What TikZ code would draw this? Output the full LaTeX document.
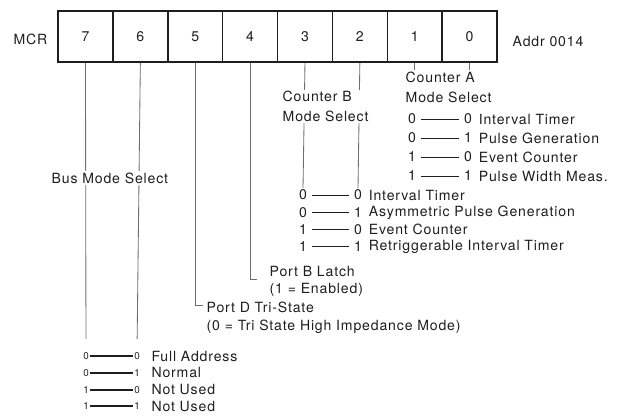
\documentclass[tikz,border=0pt]{standalone}
\usepackage{fontspec}
\setmainfont{TeX Gyre Heros}[LetterSpace=6]
\usepackage{tikz}

\begin{document}
\begin{tikzpicture}[x=0.025cm,y=-0.025cm,
  bitcell/.style={draw=ink,line width=1.1pt,minimum width=1.372cm,minimum height=1.28cm,inner sep=0pt,text=ink,font=\fontsize{10}{12}\selectfont},
  lbl/.style={anchor=west,inner sep=1pt,text=ink,font=\fontsize{10}{14}\selectfont},
  digit/.style={inner xsep=3.5pt,inner ysep=1pt,text=ink,font=\fontsize{10}{12}\selectfont},
  smalldigit/.style={inner xsep=1pt,inner ysep=1pt,text=ink,font=\fontsize{7}{8}\selectfont},
  bitline/.style={draw=wire,line width=0.6pt},
  tabline/.style={draw=ink,line width=0.6pt},
  busline/.style={draw=ink,line width=1.3pt}]
% Define colors
\definecolor{ink}{RGB}{30,30,30}
\definecolor{wire}{RGB}{110,110,110}

\useasboundingbox (0,0) rectangle (622,415);

% Draw register
\foreach \i in {0,...,7}
  \node[bitcell] (b\i) at ({469.6-54.875*\i},36.5) {\i};
\node[lbl] (mcr) at (12,39) {MCR};
\node[lbl] (addr) at (511,41) {Addr 0014};

% Counter A mode select
\node[lbl] (cnta) at (404,77) {Counter A};
\node[lbl] (cntasel) at (404,97) {Mode Select};
\foreach \a/\b/\t [count=\k] in {0/0/Interval Timer,0/1/Pulse Generation,1/0/Event Counter,1/1/Pulse Width Meas.}{
  \node[digit] (caa\k) at (412,{119+19*(\k-1)}) {\a};
  \node[digit] (cab\k) at (468,{119+19*(\k-1)}) {\b};
  \draw[tabline] (caa\k) -- (cab\k);
  \node[lbl] (cat\k) at (cab\k.east) {\t};
}
\draw[bitline] (b1.south) -- (b1.south |- cnta.north);
\draw[bitline] (b0.south) -- (b0.south |- cnta.north);

% Counter B mode select
\foreach \a/\b/\t [count=\k] in {0/0/Interval Timer,0/1/Asymmetric Pulse Generation,1/0/Event Counter,1/1/Retriggerable Interval Timer}{
  \node[digit] (cba\k) at (303,{195+17.3*(\k-1)}) {\a};
  \node[digit] (cbb\k) at (358,{195+17.3*(\k-1)}) {\b};
  \draw[tabline] (cba\k) -- (cbb\k);
  \node[lbl] (cbt\k) at (cbb\k.east) {\t};
}
\draw[bitline] (b3.south) -- (cba1.north);
\draw[bitline] (b2.south) -- (cbb1.north);
\node[lbl,fill=white,align=left] (cntb) at (281,106.5) {Counter B\\Mode Select};

% Port B latch and port D tri-state
\node[lbl] (portb) at (268,271) {Port B Latch};
\node[lbl] (portbnote) at (268,290) {(1 = Enabled)};
\coordinate (bcorner) at (257,279);
\draw[bitline] (b4.south) |- (bcorner);
\node[lbl] (portd) at (205,307) {Port D Tri-State};
\node[lbl] (portdnote) at (205,327) {(0 = Tri State High Impedance Mode)};
\coordinate (dcorner) at (203,305);
\draw[bitline] (b5.south) |- (dcorner);

% Bus mode select
\foreach \a/\b/\t [count=\k] in {0/0/Full Address,0/1/Normal,1/0/Not Used,1/1/Not Used}{
  \node[smalldigit] (busa\k) at (86,{356+16.8*(\k-1)}) {\a};
  \node[smalldigit] (busb\k) at (137,{356+16.8*(\k-1)}) {\b};
  \draw[busline] (busa\k) -- (busb\k);
  \node[lbl] (bust\k) at ([xshift=6pt]busb\k.east) {\t};
}
\draw[bitline,shorten >=0.3cm] (b7.south) -- (busa1.north);
\draw[bitline,shorten >=0.3cm] (b6.south) -- (busb1.north);
\node[lbl,fill=white,inner ysep=1pt] (busmode) at (50,178) {Bus Mode Select};
\end{tikzpicture}
\end{document}
